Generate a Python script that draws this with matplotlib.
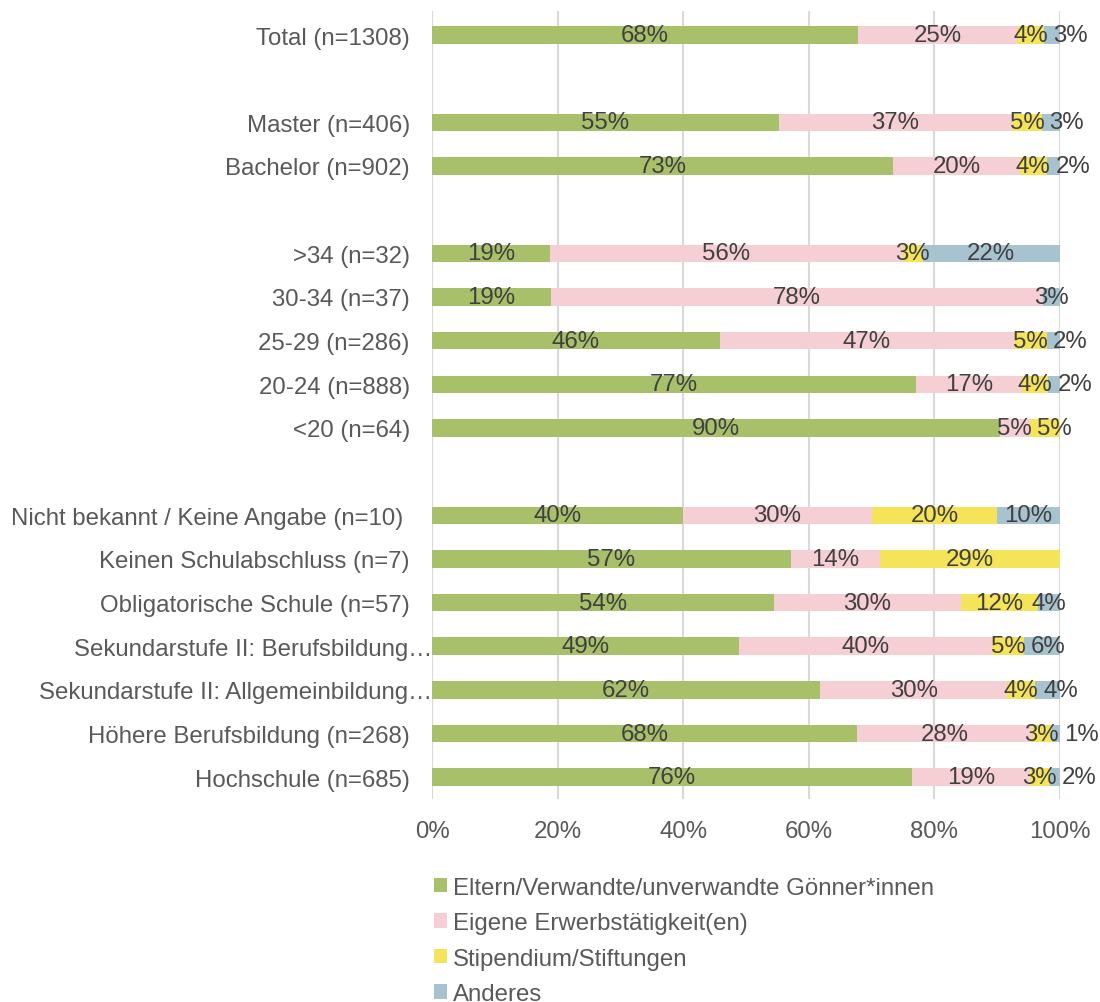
import numpy as np
import matplotlib.pyplot as plt
from matplotlib.patches import Patch
from matplotlib.transforms import ScaledTranslation

plt.rcParams["font.family"] = ["Liberation Sans", "DejaVu Sans"]

# rows from top to bottom, "" = empty spacer row
categories = [
    "Total (n=1308)", "",
    "Master (n=406)", "Bachelor (n=902)", "",
    ">34 (n=32)", "30-34 (n=37)", "25-29 (n=286)", "20-24 (n=888)", "<20 (n=64)", "",
    "Nicht bekannt / Keine Angabe (n=10) ", "Keinen Schulabschluss (n=7)",
    "Obligatorische Schule (n=57)", "Sekundarstufe II: Berufsbildung…",
    "Sekundarstufe II: Allgemeinbildung…", "Höhere Berufsbildung (n=268)",
    "Hochschule (n=685)",
]

series_names = [
    "Eltern/Verwandte/unverwandte Gönner*innen",
    "Eigene Erwerbstätigkeit(en)",
    "Stipendium/Stiftungen",
    "Anderes",
]

nan = np.nan
eltern = [67.8, nan, 55.2, 73.4, nan, 18.75, 18.9, 45.8, 77.1, 90.4, nan,
          40.0, 57.1, 54.4, 48.9, 61.8, 67.7, 76.4]
erwerb = [25.4, nan, 37.2, 20.2, nan, 56.25, 78.4, 46.9, 16.8, 4.8, nan,
          30.0, 14.3, 29.8, 40.2, 29.8, 27.8, 18.8]
stipendium = [4.2, nan, 4.7, 4.3, nan, 3.125, 0.0, 5.2, 4.2, 4.8, nan,
              20.0, 28.6, 12.3, 5.2, 4.4, 3.2, 3.2]
anderes = [2.6, nan, 2.9, 2.1, nan, 21.875, 2.7, 2.1, 1.9, 0.0, nan,
           10.0, 0.0, 3.5, 5.7, 4.0, 1.3, 1.6]

colors = ["#A9C06B", "#F5CFD3", "#F5E35A", "#A7C3D0"]
TXT = "#404040"
GREY = "#595959"
FS = 17.3

fig = plt.figure(figsize=(11, 10.03), dpi=100)
ax = fig.add_axes([432 / 1100, 1 - 800 / 1003, 628 / 1100, 788 / 1003])

y = np.arange(len(categories))
data = np.array([eltern, erwerb, stipendium, anderes])
left = np.zeros(len(categories))
for vals, col, name in zip(data, colors, series_names):
    v = np.nan_to_num(vals)
    ax.barh(y, v, left=left, height=0.4, color=col, label=name, zorder=2)
    left = left + v

ax.set_xlim(0, 100)
ax.set_ylim(17.5, -0.55)
ax.set_xticks(np.arange(0, 101, 20))
ax.set_xticklabels([f"{t}%" for t in range(0, 101, 20)])
ax.set_yticks(y)
ax.set_yticklabels(categories)
ax.tick_params(axis="both", length=0, labelsize=FS, colors=GREY)
ax.tick_params(axis="y", pad=16)
ax.tick_params(axis="x", pad=15)
ax.grid(axis="x", color="#D9D9D9", linewidth=1.5, zorder=0)
for s in ax.spines.values():
    s.set_visible(False)

# truncated labels run up to the axis
for lab in ax.get_yticklabels():
    if lab.get_text().endswith("…"):
        lab.set_transform(lab.get_transform() + ScaledTranslation(0.22, 0, fig.dpi_scale_trans))

# segment labels, nudged right when they would collide
fig.canvas.draw()
renderer = fig.canvas.get_renderer()
px_per_unit = ax.get_window_extent().width / 100.0
for i in range(len(categories)):
    if np.isnan(data[0, i]):
        continue
    start = 0.0
    prev_right = -1e9
    for j in range(4):
        v = data[j, i]
        if v > 0.5:
            cx = start + v / 2
            t = ax.text(cx, i, f"{v:.0f}%", ha="center", va="center",
                        fontsize=FS, color=TXT, zorder=3)
            w = t.get_window_extent(renderer).width / px_per_unit
            if cx - w / 2 < prev_right:
                cx = prev_right + 0.8 + w / 2
                t.set_x(cx)
            prev_right = cx + w / 2
        start += v

handles = [Patch(facecolor=c, edgecolor="none") for c in colors]
fig.legend(handles, series_names, loc="upper left",
           bbox_to_anchor=(424 / 1100, 1 - 868 / 1003), frameon=False,
           fontsize=FS, labelcolor=GREY, handlelength=0.55, handleheight=0.55,
           handletextpad=0.25, labelspacing=0.56, borderaxespad=0)

fig.savefig("out.png", dpi=100)
